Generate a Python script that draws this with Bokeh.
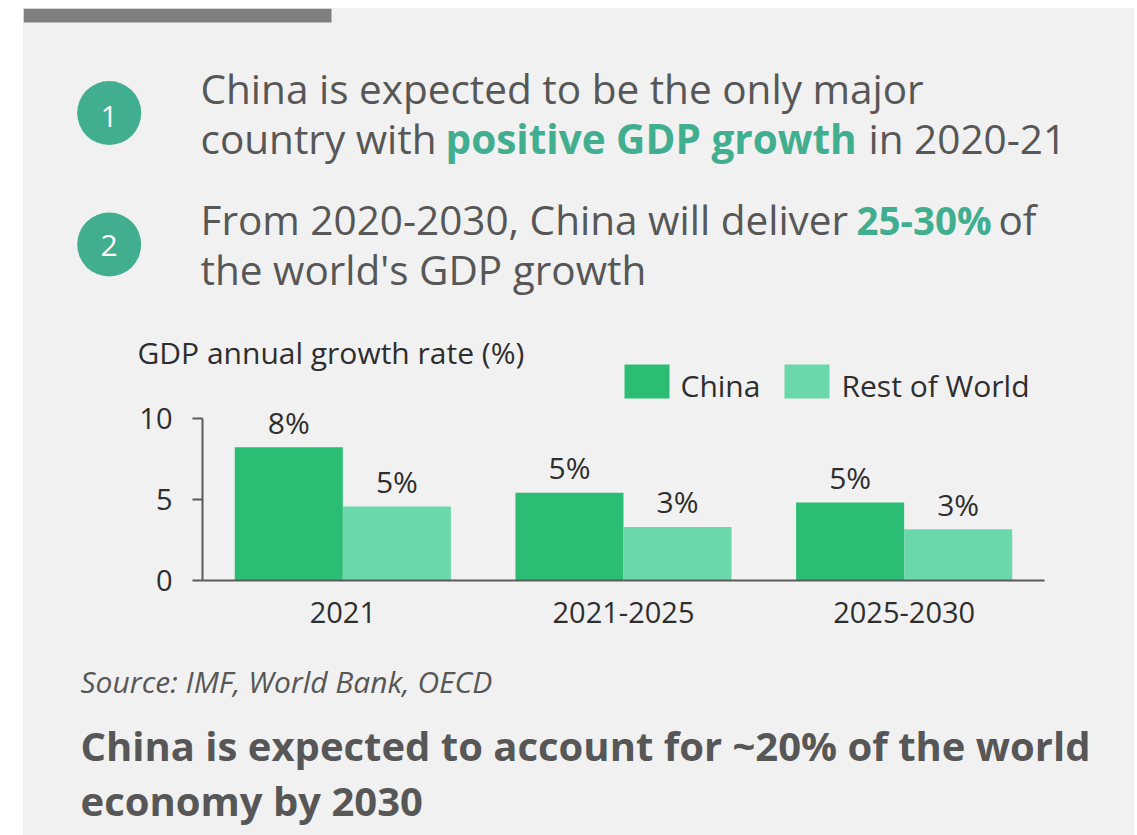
from bokeh.plotting import figure
from bokeh.models import Range1d, FactorRange, FixedTicker, ColumnDataSource
from bokeh.layouts import column
from bokeh.transform import dodge
from bokeh.core.properties import value
from bokeh.embed import file_html
from bokeh.resources import INLINE

# ---------------- data ----------------
categories = ["2021", "2021-2025", "2025-2030"]
series = ["China", "Rest of World"]
china = [8.2, 5.4, 4.8]
rest_of_world = [4.55, 3.3, 3.15]
china_labels = ["8%", "5%", "5%"]
row_labels = ["5%", "3%", "3%"]
y_ticks = [0, 5, 10]

chart_title = "GDP annual growth rate (%)"
source_text = "Source: IMF, World Bank, OECD"
footer_lines = ["China is expected to account for ~20% of the world", "economy by 2030"]

# ---------------- style ----------------
FONT = "Open Sans"
BG = "#f1f1f1"
TEAL = "#40ae8f"
COLORS = ["#2bbd74", "#6bd8ab"]
TEXT = "#575757"
DARK = "#2e2e2e"
AXIS = "#5a5a5a"
W = 1111
BASE_SHIFT = 0.37  # empirical shift of the alphabetic anchor (in em)


def txt(p, x, y, s, size, color, style="normal", align="left"):
    p.text(x=[x], y=[y - BASE_SHIFT * size], text=[s], text_font=value(FONT),
           text_font_size=f"{size}px", text_color=color, text_font_style=style,
           text_align=align, text_baseline="alphabetic")


def blank(h):
    p = figure(width=W, height=h, x_range=Range1d(0, W), y_range=Range1d(h, 0),
               output_backend="svg", toolbar_location=None, min_border=0,
               x_axis_location=None, y_axis_location=None)
    p.frame_align = False
    p.grid.visible = False
    p.outline_line_color = None
    p.background_fill_color = BG
    p.border_fill_color = BG
    return p


# ---------------- header ----------------
HH = 400
hdr = blank(HH)
hdr.quad(left=[0], right=[308], top=[0], bottom=[14], color="#7f7f7f", line_color=None)
hdr.circle(x=[85.7, 85.7], y=[104.5, 236], radius=32, color=TEAL, line_color=None)
for num, ny in [("1", 107.5), ("2", 236.5)]:
    hdr.text(x=[85.7], y=[ny], text=[num], text_font=value(FONT), text_font_size="30px",
             text_color="white", text_align="center", text_baseline="middle")

HS = 40.5
txt(hdr, 177, 95, "China is expected to be the only major", HS, TEXT)
txt(hdr, 177, 145, "country with", HS, TEXT)
txt(hdr, 422, 145, "positive GDP growth", HS, TEAL, style="bold")
txt(hdr, 845, 145, "in 2020-21", HS, TEXT)
txt(hdr, 177, 226, "From 2020-2030, China will deliver", HS, TEXT)
txt(hdr, 833, 226, "25-30%", 38.5, TEAL, style="bold")
txt(hdr, 975, 226, "of", HS, TEXT)
txt(hdr, 177, 276, "the world's GDP growth", HS, TEXT)

txt(hdr, 114, 355, chart_title, 30, DARK)

# legend
leg_x = [601, 761]
leg_tx = [657, 818]
for i, name in enumerate(series):
    hdr.quad(left=[leg_x[i]], right=[leg_x[i] + 45], top=[356], bottom=[390],
             color=COLORS[i], line_color=None)
    txt(hdr, leg_tx[i], 388, name, 30, DARK)

# ---------------- chart (transparent, overlapping the header bottom) ----------------
PX_PER_UNIT = 16.25
OVERLAP = 72
CH = 314
BOTTOM = 70
cp = figure(width=W, height=CH,
            x_range=FactorRange(factors=categories, range_padding=0),
            y_range=Range1d(0, (CH - BOTTOM) / PX_PER_UNIT),
            output_backend="svg", toolbar_location=None,
            min_border_left=179, min_border_right=90,
            min_border_top=0, min_border_bottom=BOTTOM,
            margin=(-OVERLAP, 0, 0, 0))
cp.frame_align = False
cp.background_fill_alpha = 0
cp.border_fill_alpha = 0
cp.outline_line_color = None
cp.grid.visible = False

src = ColumnDataSource(dict(cat=categories, china=china, row=rest_of_world,
                            cl=china_labels, rl=row_labels))
BW = 0.385
cp.vbar(x=dodge("cat", -BW / 2, range=cp.x_range), top="china", width=BW,
        source=src, color=COLORS[0], line_color=None)
cp.vbar(x=dodge("cat", BW / 2, range=cp.x_range), top="row", width=BW,
        source=src, color=COLORS[1], line_color=None)
for off, col, lab in [(-BW / 2, "china", "cl"), (BW / 2, "row", "rl")]:
    cp.text(x=dodge("cat", off, range=cp.x_range), y=col, text=lab, source=src,
            text_font=value(FONT), text_font_size="30px", text_color=DARK,
            text_align="center", text_baseline="alphabetic",
            y_offset=-14 - BASE_SHIFT * 30)

ya = cp.yaxis[0]
ya.ticker = FixedTicker(ticks=y_ticks)
ya.bounds = (0, 10)
ya.axis_line_color = AXIS
ya.axis_line_width = 2
ya.major_tick_line_color = AXIS
ya.major_tick_line_width = 2
ya.major_tick_out = 10
ya.major_tick_in = 0
ya.minor_tick_out = 0
ya.minor_tick_in = 0
ya.major_label_standoff = 20
ya.major_label_text_font = FONT
ya.major_label_text_font_size = "29px"
ya.major_label_text_color = DARK

xa = cp.xaxis[0]
xa.axis_line_color = AXIS
xa.axis_line_width = 2
xa.major_tick_out = 0
xa.major_tick_in = 0
xa.minor_tick_out = 0
xa.major_label_standoff = 21
xa.major_label_text_font = FONT
xa.major_label_text_font_size = "29px"
xa.major_label_text_color = DARK

# ---------------- footer ----------------
FH = 185
ftr = blank(FH)
txt(ftr, 57, 42, source_text, 30, TEXT, style="italic")
txt(ftr, 57, 110, footer_lines[0], 40, TEXT, style="bold")
txt(ftr, 57, 165, footer_lines[1], 40, TEXT, style="bold")

layout = column(hdr, cp, ftr, margin=(8, 0, 0, 23), styles={"background-color": BG})
open("out.html", "w").write(file_html(layout, INLINE))
